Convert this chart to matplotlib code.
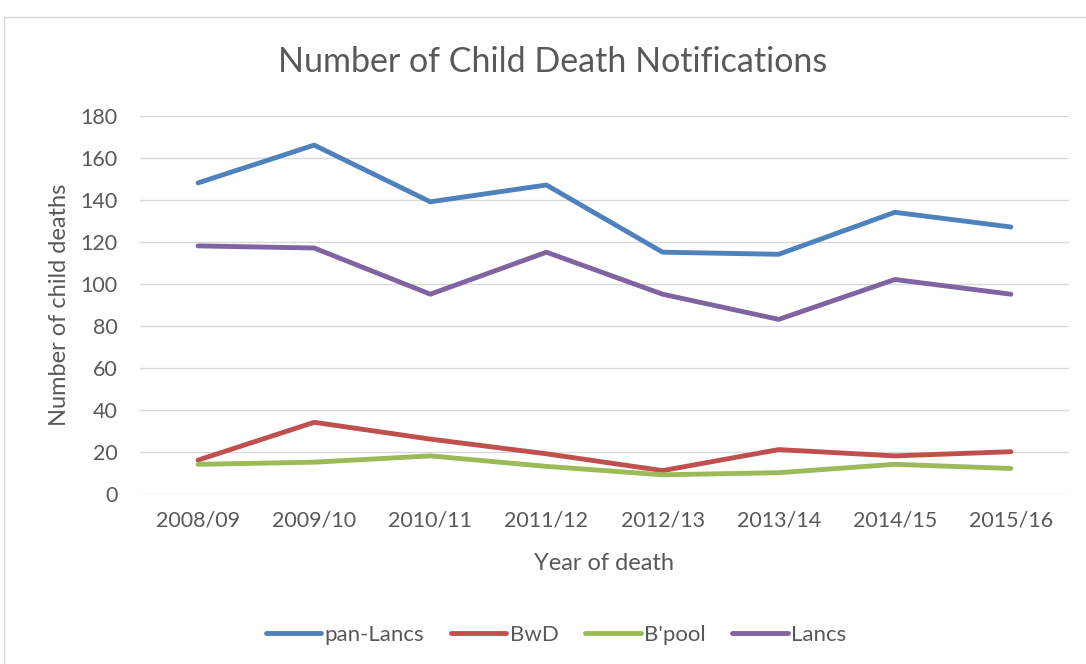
import matplotlib
matplotlib.use("Agg")
import matplotlib.pyplot as plt
from matplotlib.patches import Rectangle

years = ["2008/09", "2009/10", "2010/11", "2011/12", "2012/13", "2013/14", "2014/15", "2015/16"]
pan_lancs = [148, 166, 139, 147, 115, 114, 134, 127]
bwd = [16, 34, 26, 19, 11, 21, 18, 20]
bpool = [14, 15, 18, 13, 9, 10, 14, 12]
lancs = [118, 117, 95, 115, 95, 83, 102, 95]
series_names = ["pan-Lancs", "BwD", "B'pool", "Lancs"]
colors = ["#4F81BD", "#C0504D", "#9BBB59", "#8064A2"]
y_ticks = [0, 20, 40, 60, 80, 100, 120, 140, 160, 180]

plt.rcParams['font.family'] = ['Lato', 'DejaVu Sans']
txt = "#595959"

W, H = 1086, 664
fig = plt.figure(figsize=(W / 100, H / 100), dpi=100)
fig.patch.set_facecolor("white")
fig.patches.append(Rectangle((4 / W, -0.1), 1.2, 1 - 17 / H + 0.1, transform=fig.transFigure,
                             fill=False, edgecolor="#D9D9D9", linewidth=1.0))

ax = fig.add_axes([140 / W, 1 - 493.7 / H, (1069 - 140) / W, (493.7 - 115.7) / H])
x = list(range(len(years)))
for name, vals, c in zip(series_names, [pan_lancs, bwd, bpool, lancs], colors):
    ax.plot(x, vals, color=c, linewidth=3.5, solid_capstyle="round", solid_joinstyle="round", label=name)

ax.set_xlim(-0.5, len(years) - 0.5)
ax.set_ylim(0, 180)
ax.set_yticks(y_ticks)
ax.set_xticks(x)
ax.set_xticklabels(years)
ax.grid(axis="y", color="#D9D9D9", linewidth=1.0)
ax.set_axisbelow(True)
for s in ax.spines.values():
    s.set_visible(False)
ax.tick_params(length=0, labelsize=15.5, colors=txt)
ax.tick_params(axis="y", pad=16)
ax.tick_params(axis="x", pad=12)

fig.text(553 / W, 1 - 62 / H, "Number of Child Death Notifications", ha="center", va="center",
         fontsize=24.5, color=txt)
fig.text(604 / W, 1 - 563 / H, "Year of death", ha="center", va="center", fontsize=17, color=txt)
fig.text(59 / W, 1 - 305 / H, "Number of child deaths", ha="center", va="center", rotation=90,
         fontsize=17, color=txt)

leg = fig.legend(loc="center", bbox_to_anchor=(556 / W, 1 - 635 / H), ncol=4, frameon=False,
                 fontsize=16, handlelength=2.5, handletextpad=0.15, columnspacing=1.2)
for t in leg.get_texts():
    t.set_color(txt)

fig.savefig("out.png", dpi=100)
